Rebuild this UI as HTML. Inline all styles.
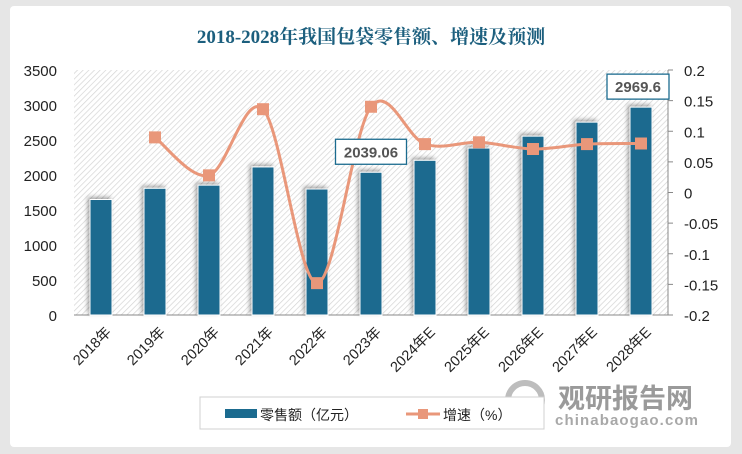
<!DOCTYPE html>
<html><head><meta charset="utf-8"><style>
body{margin:0;width:742px;height:454px;background:#e6e6e6;font-family:"Liberation Sans","Noto Sans CJK SC",sans-serif;overflow:hidden}
#card{position:absolute;left:10px;top:6px;width:721px;height:441px;background:#fff;border-radius:4px}
</style></head><body>
<div id="card"></div>
<svg id="chart" width="742" height="454" style="position:absolute;left:0;top:0">
<defs>
<pattern id="hatch" width="4" height="4" patternUnits="userSpaceOnUse" patternTransform="rotate(45)">
<rect width="4" height="4" fill="#fff"/><line x1="0" y1="0" x2="0" y2="4" stroke="#d4d4d4" stroke-width="1.4"/></pattern>
<filter id="sh" x="-50%" y="-20%" width="200%" height="140%"><feDropShadow dx="-2" dy="-2" stdDeviation="2" flood-color="#000" flood-opacity="0.35"/></filter>
</defs>
<text x="371" y="43" text-anchor="middle" font-family="'Liberation Serif','Noto Serif CJK SC',serif" font-weight="bold" font-size="19" fill="#1c5f7e">2018-2028年我国包袋零售额、增速及预测</text>
<rect x="74" y="70" width="594" height="245" fill="url(#hatch)"/>
<g id="axes"></g><g id="bars"></g><g id="line"></g><g id="labels"></g>
<g>
<circle cx="525" cy="400" r="17" fill="none" stroke="#bdbdbd" stroke-width="6"/>
<text x="558" y="408" font-size="27" font-weight="bold" fill="#9a9a9a">观研报告网</text>
<text x="555" y="425" font-size="15" font-weight="bold" fill="#a8a8a8" textLength="143">chinabaogao.com</text>
</g>
<g>
<rect x="200" y="397" width="344" height="32" fill="#fff" stroke="#d0d0d0"/>
<rect x="225" y="409" width="32" height="9" fill="#1b6b8f"/>
<text x="260" y="420" font-size="14" fill="#222">零售额（亿元）</text>
<line x1="406" y1="414" x2="440" y2="414" stroke="#e9977a" stroke-width="3"/>
<rect x="418" y="409" width="10" height="10" fill="#e9977a"/>
<text x="443" y="420" font-size="14" fill="#222">增速（%）</text>
</g>
</svg>
<script>
const categories=["2018年","2019年","2020年","2021年","2022年","2023年","2024年E","2025年E","2026年E","2027年E","2028年E"];
const sales=[1650,1810,1855,2115,1800,2039.06,2210,2385,2555,2755,2969.6];
const growth=[null,0.09,0.028,0.136,-0.148,0.14,0.079,0.082,0.071,0.079,0.08];
const leftTicks=[0,500,1000,1500,2000,2500,3000,3500];
const rightTicks=["0.2","0.15","0.1","0.05","0","-0.05","-0.1","-0.15","-0.2"];
const labeled=[5,10];
const NS="http://www.w3.org/2000/svg";
const X0=74,X1=668,Y0=315,Y1=70,bw=(X1-X0)/categories.length;
const xc=i=>X0+bw*(i+0.5);
const yL=v=>Y0-(v/3500)*(Y0-Y1);
const yR=v=>Y0-((v+0.2)/0.4)*(Y0-Y1);
function mk(t,a,p){const e=document.createElementNS(NS,t);for(const k in a)e.setAttribute(k,a[k]);p.appendChild(e);return e;}
const ax=document.getElementById('axes');
mk('line',{x1:X0,y1:Y0,x2:X1,y2:Y0,stroke:'#888','stroke-width':1},ax);
mk('line',{x1:X1,y1:Y1,x2:X1,y2:Y0,stroke:'#888','stroke-width':1},ax);
leftTicks.forEach(v=>{const t=mk('text',{x:57,y:yL(v)+6,'text-anchor':'end','font-size':15,fill:'#222'},ax);t.textContent=v;

});
rightTicks.forEach(s=>{const v=parseFloat(s);mk('line',{x1:X1,y1:yR(v),x2:X1+5,y2:yR(v),stroke:'#888'},ax);
const t=mk('text',{x:684,y:yR(v)+6,'font-size':15,fill:'#222'},ax);t.textContent=s;

});
categories.forEach((c,i)=>{const ex=xc(i)+11,ey=333;const t=mk('text',{x:ex,y:ey,'text-anchor':'end','font-size':14.5,fill:'#222',transform:`rotate(-45 ${ex} ${ey})`},ax);t.textContent=c;

});
const bg=document.getElementById('bars');
sales.forEach((v,i)=>{const r=mk('rect',{x:xc(i)-11,y:yL(v),width:22,height:Y0-yL(v),fill:'#1b6b8f',stroke:'#fff','stroke-width':1,filter:'url(#sh)'},bg);

});
const pts=[];growth.forEach((g,i)=>{if(g!==null)pts.push([xc(i),yR(g)]);});
let d=`M${pts[0][0]},${pts[0][1]}`;
for(let i=0;i<pts.length-1;i++){const p0=pts[i-1]||pts[i],p1=pts[i],p2=pts[i+1],p3=pts[i+2]||p2;
d+=` C${p1[0]+(p2[0]-p0[0])/6},${p1[1]+(p2[1]-p0[1])/6} ${p2[0]-(p3[0]-p1[0])/6},${p2[1]-(p3[1]-p1[1])/6} ${p2[0]},${p2[1]}`;}
const lg=document.getElementById('line');
const path=mk('path',{d:d,fill:'none',stroke:'#e9977a','stroke-width':3},lg);


pts.forEach(p=>{const m=mk('rect',{x:p[0]-6,y:p[1]-6,width:12,height:12,fill:'#e9977a'},lg);

});
const lb=document.getElementById('labels');
labeled.forEach(i=>{const s=String(sales[i]);const w=s.length*9+8;const cx=xc(i)-(i===10?3:0),y=yL(sales[i])-20;
mk('rect',{x:cx-w/2,y:y-13,width:w,height:25,fill:'#fff',stroke:'#1b6b8f','stroke-width':1.3},lb);
const t=mk('text',{x:cx,y:y+5,'text-anchor':'middle','font-size':15,'font-weight':'bold',fill:'#555'},lb);t.textContent=s;

});
</script>
</body></html>
